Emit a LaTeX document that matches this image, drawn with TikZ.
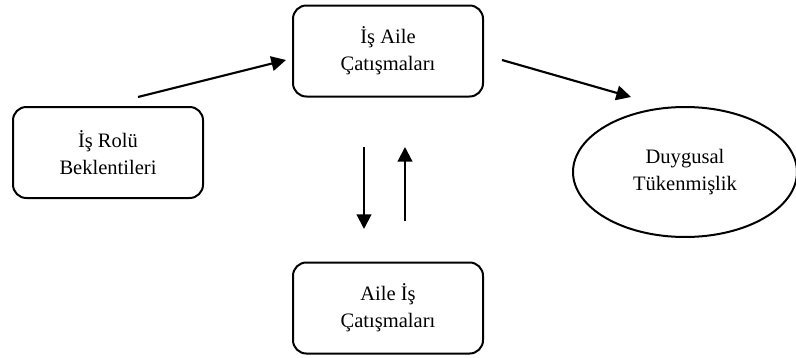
\documentclass[tikz,border=0pt]{standalone}
\usepackage{fontspec}
\setmainfont{Liberation Serif}
\usetikzlibrary{shapes.geometric,arrows.meta}
\begin{document}
\begin{tikzpicture}[x=0.75pt,y=-0.75pt,
  box/.style={draw,line width=1.5pt,rounded corners=10pt,minimum width=142.5pt,
    minimum height=68.25pt,align=center,inner sep=0pt},
  oval/.style={draw,line width=1.5pt,ellipse,minimum width=168pt,minimum height=97.5pt,
    align=center,inner sep=0pt},
  flow/.style={line width=1.6pt,-{Triangle[length=11pt,width=11pt]}},
  every node/.style={font=\fontsize{15.4pt}{20.3pt}\selectfont}]
\useasboundingbox (0,0) rectangle (796,357);
\node[box] (rol) at (108,152.5) {İş Rolü\\Beklentileri};
\node[box] (ia) at (388,51) {İş Aile\\Çatışmaları};
\node[box] (ai) at (388,308) {Aile İş\\Çatışmaları};
\node[oval] (dt) at (685,172) {Duygusal\\Tükenmişlik};
\coordinate (r1) at (138,97);
\coordinate (r2) at (286,60);
\coordinate (d1) at (502,60);
\coordinate (d2) at (631,97);
\coordinate (v1) at (364,147);
\coordinate (v2) at (364,229);
\coordinate (u1) at (405,221);
\coordinate (u2) at (405,147);
\draw[flow] (r1) -- (r2);
\draw[flow] (d1) -- (d2);
\draw[flow] (v1) -- (v2);
\draw[flow] (u1) -- (u2);
\end{tikzpicture}
\end{document}
